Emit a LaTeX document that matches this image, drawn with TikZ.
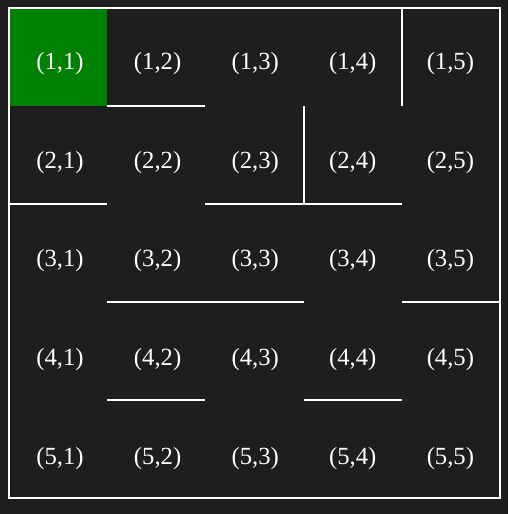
\documentclass[tikz,border=0pt]{standalone}
\usepackage{fontspec}
\setmainfont{Liberation Serif}
\definecolor{mazebg}{HTML}{1E1E1E}
\definecolor{startgreen}{HTML}{008000}
\tikzset{every picture/.style={line width=0.75pt}}
\tikzset{
  wall/.style={draw=white, line width=1.5},
  celllabel/.style={text=white, inner sep=0.75pt, font=\fontsize{18.5}{20}\selectfont}
}

\begin{document}
\begin{tikzpicture}[x=0.75pt,y=0.75pt,yscale=-1,xscale=1]
	%background, sets the size of the picture
	\fill [mazebg] (0,0) rectangle (508,514);
	\useasboundingbox (0,0) rectangle (508,514);
	
	%Start cell
	\fill [startgreen] (9,8) rectangle (107,106);
	
	%Outer border
	\draw [wall] (9,8) rectangle (500,498);
	
	%Horizontal walls
	\draw [wall] (107,106) -- (205,106);
	\draw [wall] (9,204) -- (107,204);
	\draw [wall] (205,204) -- (402,204);
	\draw [wall] (107,302) -- (304,302);
	\draw [wall] (402,302) -- (500,302);
	\draw [wall] (107,400) -- (205,400);
	\draw [wall] (304,400) -- (402,400);
	%Vertical walls
	\draw [wall] (402,8) -- (402,106);
	\draw [wall] (304,106) -- (304,204);
	
	% Text Nodes
	\foreach \r in {1,...,5}
	  \foreach \c in {1,...,5}
	    \node [celllabel] (cell\r\c) at (60+97.6*\c-97.6, 63.5+98.75*\r-98.75) {(\r,\c)};
	
\end{tikzpicture}
\end{document}
